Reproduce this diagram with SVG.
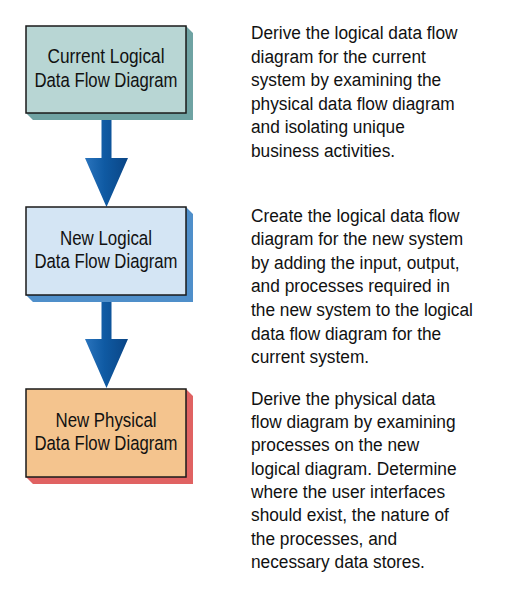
<svg xmlns="http://www.w3.org/2000/svg" width="516" height="598" viewBox="0 0 516 598">
<defs>
<linearGradient id="ag" x1="0" y1="0" x2="1" y2="0">
<stop offset="0" stop-color="#2a74bd"/>
<stop offset="0.45" stop-color="#0f5aa3"/>
<stop offset="1" stop-color="#0a4585"/>
</linearGradient>
<style>
.box{stroke:#1a1a1a;stroke-width:1.5}
.lbl{font-family:"Liberation Sans",Arial,sans-serif;font-size:20.5px;fill:#111;text-anchor:middle}
.desc{font-family:"Liberation Sans",Arial,sans-serif;font-size:19px;fill:#111}
.arrow{fill:url(#ag)}
</style>
</defs>
<rect width="516" height="598" fill="#fff"/>
<g id="connectors">
<polygon class="arrow" points="101.5,119 111.5,119 111.5,158 128,158 106.5,207 85,158 101.5,158"/>
<polygon class="arrow" points="101.5,301 111.5,301 111.5,339 128,339 106.5,388 85,339 101.5,339"/>
</g>
<g id="node-current-logical">
<polygon points="186,26 193,33 193,120 33,120 26,113 186,113" fill="#6fa3a3"/>
<rect class="box" x="26" y="26" width="160" height="87" fill="#b8d6d4"/>
<text class="lbl" x="106" y="63" textLength="117" lengthAdjust="spacingAndGlyphs">Current Logical</text>
<text class="lbl" x="106" y="87" textLength="143" lengthAdjust="spacingAndGlyphs">Data Flow Diagram</text>
</g>
<g id="node-new-logical">
<polygon points="186,207 193,214 193,302 33,302 26,295 186,295" fill="#4f8fca"/>
<rect class="box" x="26" y="207" width="160" height="88" fill="#d4e5f4"/>
<text class="lbl" x="106" y="245" textLength="92" lengthAdjust="spacingAndGlyphs">New Logical</text>
<text class="lbl" x="106" y="268" textLength="143" lengthAdjust="spacingAndGlyphs">Data Flow Diagram</text>
</g>
<g id="node-new-physical">
<polygon points="186,389 193,396 193,484 33,484 26,477 186,477" fill="#e06262"/>
<rect class="box" x="26" y="389" width="160" height="88" fill="#f4c48e"/>
<text class="lbl" x="106" y="427" textLength="101" lengthAdjust="spacingAndGlyphs">New Physical</text>
<text class="lbl" x="106" y="450" textLength="143" lengthAdjust="spacingAndGlyphs">Data Flow Diagram</text>
</g>
<g id="desc-1" class="desc" transform="translate(251,0) scale(0.91,1)">
<text x="0" y="39">Derive the logical data flow</text>
<text x="0" y="63">diagram for the current</text>
<text x="0" y="86">system by examining the</text>
<text x="0" y="110">physical data flow diagram</text>
<text x="0" y="133">and isolating unique</text>
<text x="0" y="157">business activities.</text>
</g>
<g id="desc-2" class="desc" transform="translate(251,0) scale(0.91,1)">
<text x="0" y="222">Create the logical data flow</text>
<text x="0" y="245">diagram for the new system</text>
<text x="0" y="269">by adding the input, output,</text>
<text x="0" y="292">and processes required in</text>
<text x="0" y="316">the new system to the logical</text>
<text x="0" y="340">data flow diagram for the</text>
<text x="0" y="363">current system.</text>
</g>
<g id="desc-3" class="desc" transform="translate(251,0) scale(0.91,1)">
<text x="0" y="405">Derive the physical data</text>
<text x="0" y="428">flow diagram by examining</text>
<text x="0" y="451">processes on the new</text>
<text x="0" y="475">logical diagram. Determine</text>
<text x="0" y="498">where the user interfaces</text>
<text x="0" y="521">should exist, the nature of</text>
<text x="0" y="545">the processes, and</text>
<text x="0" y="568">necessary data stores.</text>
</g>
</svg>
